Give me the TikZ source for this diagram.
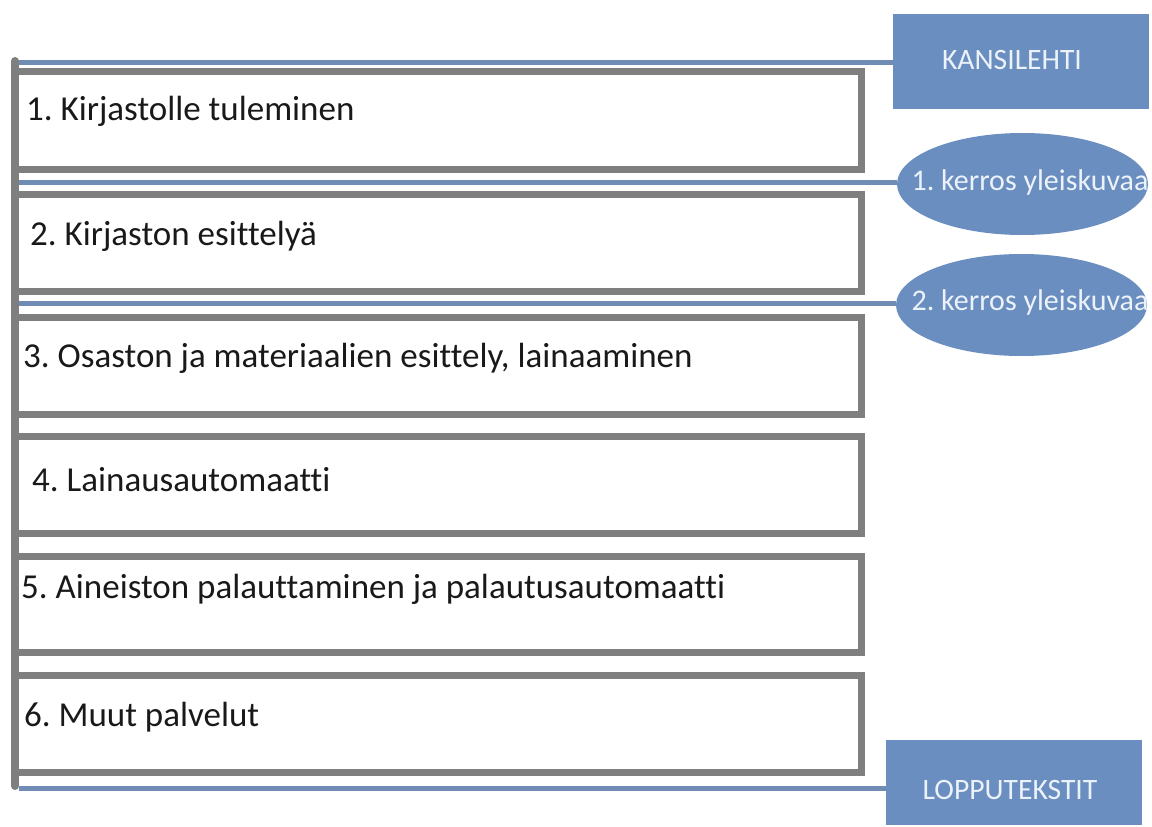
\documentclass[tikz,border=0pt]{standalone}
\usepackage{fontspec}
\setmainfont{Carlito}[Ligatures=NoCommon]
\usetikzlibrary{shapes.geometric}
\frenchspacing

\definecolor{framegray}{RGB}{127,127,127}
\definecolor{sideblue}{RGB}{106,142,191}
\definecolor{linkblue}{RGB}{112,140,180}
\definecolor{sideink}{RGB}{236,242,250}
\definecolor{chapink}{RGB}{25,25,25}

\begin{document}
\begin{tikzpicture}[x=1pt,y=-1pt,
  chapbox/.style={draw=framegray,line width=7pt,minimum width=846pt,inner sep=0pt},
  chaptext/.style={anchor=base west,inner sep=0pt,text=chapink,font=\fontsize{35}{40}\selectfont},
  sidebox/.style={fill=sideblue,minimum width=256pt,inner sep=0pt},
  sideoval/.style={ellipse,fill=sideblue,minimum width=251pt,minimum height=102pt,inner sep=0pt},
  sidetext/.style={inner sep=0pt,text=sideink,font=\fontsize{29.6}{34}\selectfont},
  ovaltext/.style={inner sep=0pt,text=sideink,font=\fontsize{30}{34}\selectfont},
  link/.style={draw=linkblue,line width=5pt}]
\useasboundingbox (0,0) rectangle (1152,827);

% chapter frames
\foreach \yc/\h/\tx/\ty/\A [count=\i] in {120.5/98/26/120/1. Kirjastolle tuleminen,
    242.5/97/30/245/2. Kirjaston esittelyä,
    365.75/96.5/23/367/{3. Osaston ja materiaalien esittely, lainaaminen},
    485/97/32/491/4. Lainausautomaatti,
    604.25/96.5/21/598/5. Aineiston palauttaminen ja palautusautomaatti,
    724/97/24/726/6. Muut palvelut} {%
    \node[chapbox,minimum height=\h pt] (box\i) at (438,\yc) {};
    \node[chaptext] (title\i) at (\tx,\ty) {\A};
}

% side items
\node[sidebox,minimum height=95pt] (kansi) at (1021,61.5) {};
\node[sidetext] (kansitext) at (1012,60) {KANSILEHTI};
\node[sideoval] (floor1) at (1022.5,184) {};
\node[ovaltext] (floor1text) at (1030,183) {1. kerros yleiskuvaa};
\node[sideoval] (floor2) at (1021.5,305) {};
\node[ovaltext] (floor2text) at (1030,302) {2. kerros yleiskuvaa};
\node[sidebox,minimum height=85pt] (loppu) at (1014,782.5) {};
\node[sidetext] (lopputext) at (1010,790) {LOPPUTEKSTIT};

% spine and links
\coordinate (spinetop) at (15,61);
\coordinate (spinebot) at (15,786);
\coordinate (l1) at (19,62);
\coordinate (l2) at (19,182.5);
\coordinate (l3) at (19,303);
\coordinate (l4) at (19,788);
\draw[link] (l1) -- (l1 -| kansi.west);
\draw[link] (l2) -- (l2 -| floor1.west);
\draw[link] (l3) -- (l3 -| floor2.west);
\draw[link] (l4) -- (l4 -| loppu.west);
\draw[framegray,line width=8pt,line cap=round] (spinetop) -- (spinebot);
\end{tikzpicture}
\end{document}
